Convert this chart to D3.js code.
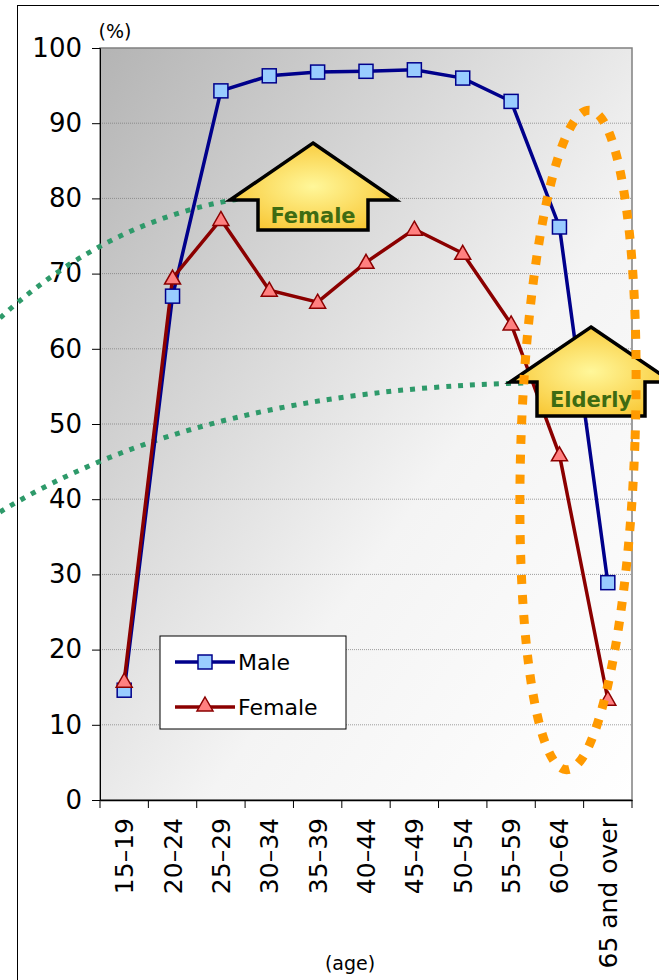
<!DOCTYPE html>
<html><head><meta charset="utf-8">
<script src="https://cdn.jsdelivr.net/npm/d3@7"></script>
<style>body{margin:0;background:#fff}text{font-family:"DejaVu Sans",sans-serif}</style>
</head><body>
<script>
var ages = ["15\u201319","20\u201324","25\u201329","30\u201334","35\u201339","40\u201344","45\u201349","50\u201354","55\u201359","60\u201364","65 and over"];
var male = [14.6, 67.0, 94.3, 96.3, 96.8, 96.9, 97.1, 96.0, 92.9, 76.2, 28.9];
var female = [15.8, 69.4, 77.2, 67.8, 66.2, 71.5, 75.9, 72.7, 63.3, 45.9, 13.4];
var yTicks = [0,10,20,30,40,50,60,70,80,90,100];

var W = 659, H = 980;
var svg = d3.select("body").append("svg").attr("width", W).attr("height", H);
var L = 100, R = 632, T = 48, B = 800;
var x = d3.scaleBand().domain(ages).range([L, R]);
var y = d3.scaleLinear().domain([0, 100]).range([B, T]);
var cx = function(i){ return x(ages[i]) + x.bandwidth()/2; };

var defs = svg.append("defs");
var g1 = defs.append("linearGradient").attr("id","bg").attr("x1","0").attr("y1","0").attr("x2","1").attr("y2","1");
g1.append("stop").attr("offset","0").attr("stop-color","#b4b4b4");
g1.append("stop").attr("offset","0.6").attr("stop-color","#f4f4f4");
g1.append("stop").attr("offset","1").attr("stop-color","#ffffff");
var g2 = defs.append("radialGradient").attr("id","arr").attr("cx","0.5").attr("cy","0.5").attr("r","0.6");
g2.append("stop").attr("offset","0").attr("stop-color","#fff79a");
g2.append("stop").attr("offset","1").attr("stop-color","#f8c530");

// outer frame
svg.append("rect").attr("x",17.5).attr("y",5.5).attr("width",W).attr("height",H).attr("fill","none").attr("stroke","#000");
svg.append("rect").attr("x",L).attr("y",T).attr("width",R-L).attr("height",B-T).attr("fill","url(#bg)").attr("stroke","#808080").attr("stroke-width",1.5);

// gridlines
svg.append("g").selectAll("line").data(yTicks.slice(1,10)).enter().append("line")
  .attr("x1",L).attr("x2",R).attr("y1",y).attr("y2",y).attr("stroke","#777").attr("stroke-width",0.7).attr("stroke-dasharray","1,1");

// axes
var ya = svg.append("g").attr("transform","translate("+L+",0)").call(d3.axisLeft(y).tickValues(yTicks).tickSize(8).tickPadding(10));
ya.select(".domain").attr("stroke","#000");
ya.selectAll("text").attr("font-size",26).attr("font-family","DejaVu Sans").attr("fill","#000");
var xa = svg.append("g").attr("transform","translate(0,"+B+")").call(d3.axisBottom(x).tickSize(0).tickFormat(""));
xa.select(".domain").attr("stroke","#000").attr("stroke-width",1.5);
svg.append("g").selectAll("line").data(d3.range(ages.length+1)).enter().append("line")
  .attr("x1",function(i){return L + i*x.bandwidth();}).attr("x2",function(i){return L + i*x.bandwidth();})
  .attr("y1",B).attr("y2",B+8).attr("stroke","#000");
svg.append("g").selectAll("text").data(ages).enter().append("text")
  .attr("transform",function(d,i){return "translate("+(cx(i)+9)+","+(B+18)+") rotate(-90)";})
  .attr("text-anchor","end").attr("font-size",25).text(function(d){return d;});
svg.append("text").attr("x",115).attr("y",38).attr("text-anchor","middle").attr("font-size",19).text("(%)");
svg.append("text").attr("x",350).attr("y",970).attr("text-anchor","middle").attr("font-size",19).text("(age)");

// annotations behind
var green = "#2e9a6a";
svg.append("path").attr("d","M0,318 Q110,218 245,198").attr("fill","none").attr("stroke",green).attr("stroke-width",5).attr("stroke-dasharray","5,7");
svg.append("path").attr("d","M0,512 Q200,390 525,383").attr("fill","none").attr("stroke",green).attr("stroke-width",5).attr("stroke-dasharray","5,7");

function arrow(px, tip, wingY, half, shaftHalf, bot, label){
  var p = [[px,tip],[px+half,wingY],[px+shaftHalf,wingY],[px+shaftHalf,bot],[px-shaftHalf,bot],[px-shaftHalf,wingY],[px-half,wingY]];
  svg.append("path").attr("d","M"+p.join("L")+"Z").attr("fill","url(#arr)").attr("stroke","#000").attr("stroke-width",3.5).attr("stroke-linejoin","miter");
  svg.append("text").attr("x",px).attr("y",(wingY+bot)/2+8).attr("text-anchor","middle").attr("font-size",21).attr("font-weight","bold").attr("fill","#3e6b12").text(label);
}

// lines
var line = d3.line().x(function(d,i){return cx(i);}).y(function(d){return y(d);});
svg.append("path").datum(male).attr("d",line).attr("fill","none").attr("stroke","#00008b").attr("stroke-width",3.5);
svg.append("path").datum(female).attr("d",line).attr("fill","none").attr("stroke","#8b0000").attr("stroke-width",3.5);
svg.append("g").selectAll("rect").data(male).enter().append("rect")
  .attr("x",function(d,i){return cx(i)-7;}).attr("y",function(d){return y(d)-7;}).attr("width",14).attr("height",14)
  .attr("fill","#99ccff").attr("stroke","#00008b").attr("stroke-width",1.5);
var tri = function(px,py,s){return "M"+px+","+(py-s)+"L"+(px+s)+","+(py+s*0.75)+"L"+(px-s)+","+(py+s*0.75)+"Z";};
svg.append("g").selectAll("path").data(female).enter().append("path")
  .attr("d",function(d,i){return tri(cx(i),y(d),8);}).attr("fill","#ff8080").attr("stroke","#8b0000").attr("stroke-width",1.5);

arrow(313,143,200,83,55,230,"Female");
arrow(591,327,382,81,54,416,"Elderly");

// orange ellipse
svg.append("ellipse").attr("cx",578).attr("cy",440).attr("rx",57).attr("ry",330)
  .attr("transform","rotate(2,578,440)")
  .attr("fill","none").attr("stroke","#ff9a00").attr("stroke-width",9).attr("stroke-dasharray","9,11");

// legend
var lg = svg.append("g").attr("transform","translate(160,636)");
lg.append("rect").attr("width",186).attr("height",93).attr("fill","#fff").attr("stroke","#000");
lg.append("line").attr("x1",15).attr("x2",75).attr("y1",26).attr("y2",26).attr("stroke","#00008b").attr("stroke-width",3.5);
lg.append("rect").attr("x",38).attr("y",19).attr("width",14).attr("height",14).attr("fill","#99ccff").attr("stroke","#00008b").attr("stroke-width",1.5);
lg.append("text").attr("x",78).attr("y",34).attr("font-size",22).text("Male");
lg.append("line").attr("x1",15).attr("x2",75).attr("y1",71).attr("y2",71).attr("stroke","#8b0000").attr("stroke-width",3.5);
lg.append("path").attr("d",tri(45,69,8)).attr("fill","#ff8080").attr("stroke","#8b0000").attr("stroke-width",1.5);
lg.append("text").attr("x",78).attr("y",79).attr("font-size",22).text("Female");
</script>
</body></html>
